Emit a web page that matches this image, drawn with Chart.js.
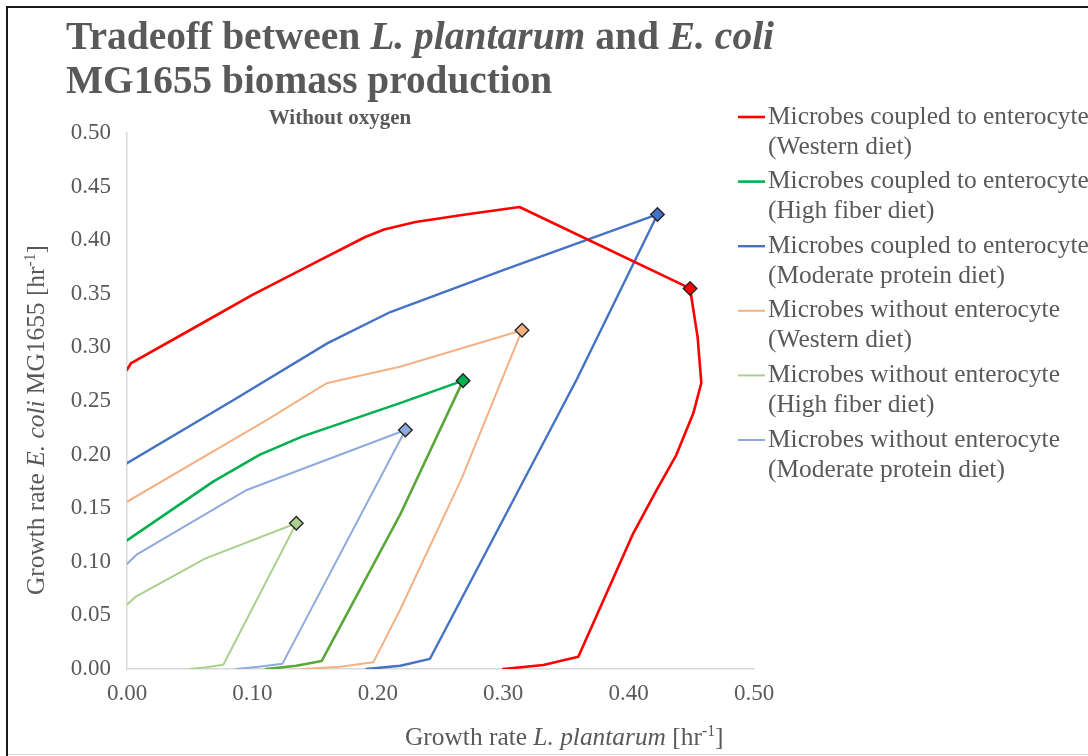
<!DOCTYPE html>
<html>
<head>
<meta charset="utf-8">
<title>Tradeoff between L. plantarum and E. coli MG1655 biomass production</title>
<script src="https://cdn.jsdelivr.net/npm/chart.js@4.4.1/dist/chart.umd.min.js"></script>
<style>
  html, body { margin: 0; padding: 0; background: #ffffff; }
  #wrap { width: 1088px; height: 756px; position: relative; }
</style>
</head>
<body>
<div id="wrap"><canvas id="chart" width="1088" height="756"></canvas></div>
<script>
// Growth rate of L. plantarum (x) vs E. coli MG1655 (y), hr^-1, anaerobic
// Each front runs from the E. coli axis up to the optimum (diamond) and back down to the L. plantarum axis.

// Microbes coupled to enterocyte, Western diet
const coupledWesternX = [0, 0.003, 0.05, 0.10, 0.15, 0.19, 0.205, 0.23, 0.27, 0.313, 0.449, 0.455, 0.458, 0.4516, 0.438, 0.4224, 0.4037, 0.3599, 0.332, 0.300];
const coupledWesternY = [0.279, 0.285, 0.316, 0.349, 0.379, 0.403, 0.410, 0.417, 0.424, 0.431, 0.355, 0.31, 0.267, 0.2385, 0.1996, 0.167, 0.1266, 0.0115, 0.0037, 0];

// Microbes coupled to enterocyte, High fiber diet
const coupledFiberX = [0, 0.069, 0.106, 0.14, 0.2177, 0.268, 0.2177, 0.1553, 0.135, 0.1108];
const coupledFiberY = [0.12, 0.175, 0.2, 0.217, 0.248, 0.269, 0.1437, 0.0075, 0.003, 0];

// Microbes coupled to enterocyte, Moderate protein diet
const coupledProteinX = [0, 0.085, 0.16, 0.21, 0.30, 0.423, 0.3586, 0.2416, 0.218, 0.191];
const coupledProteinY = [0.192, 0.251, 0.304, 0.333, 0.372, 0.424, 0.27, 0.0095, 0.003, 0];

// Microbes without enterocyte, Western diet
const aloneWesternX = [0, 0.111, 0.159, 0.2177, 0.315, 0.267, 0.2177, 0.1964, 0.17, 0.1393];
const aloneWesternY = [0.156, 0.232, 0.2665, 0.282, 0.316, 0.178, 0.055, 0.0062, 0.002, 0];

// Microbes without enterocyte, High fiber diet
const aloneFiberX = [0, 0.0064, 0.0622, 0.135, 0.0768, 0.062, 0.050];
const aloneFiberY = [0.06, 0.067, 0.103, 0.136, 0.004, 0.0015, 0];

// Microbes without enterocyte, Moderate protein diet
const aloneProteinX = [0, 0.008, 0.0955, 0.222, 0.124, 0.105, 0.087];
const aloneProteinY = [0.098, 0.107, 0.167, 0.223, 0.005, 0.002, 0];

// index of the optimum point (diamond marker) in each series
const optimumIndex = [10, 5, 5, 4, 3, 3];

const seriesNames = [
  'Microbes coupled to enterocyte', 'Microbes coupled to enterocyte', 'Microbes coupled to enterocyte',
  'Microbes without enterocyte', 'Microbes without enterocyte', 'Microbes without enterocyte'
];
const dietNames = [
  '(Western diet)', '(High fiber diet)', '(Moderate protein diet)',
  '(Western diet)', '(High fiber diet)', '(Moderate protein diet)'
];

const xTickLabels = ['0.00', '0.10', '0.20', '0.30', '0.40', '0.50'];
const yTickLabels = ['0.00', '0.05', '0.10', '0.15', '0.20', '0.25', '0.30', '0.35', '0.40', '0.45', '0.50'];

const seriesX = [coupledWesternX, coupledFiberX, coupledProteinX, aloneWesternX, aloneFiberX, aloneProteinX];
const seriesY = [coupledWesternY, coupledFiberY, coupledProteinY, aloneWesternY, aloneFiberY, aloneProteinY];
const lineColors = ['#FF0000', '#00B050', '#4472C4', '#F4B183', '#A9D18E', '#8FAADC'];
const returnColors = ['#FF0000', '#5AA73A', '#4472C4', '#F4B183', '#A9D18E', '#8FAADC'];
const lineWidths = [2.6, 2.6, 2.4, 2.0, 2.0, 2.0];

const SERIF = '"Liberation Serif", "Times New Roman", Times, serif';
const TEXT_GREY = '#595959';

function zip(xs, ys) { return xs.map((x, i) => ({ x: x, y: ys[i] })); }

const datasets = seriesX.map((xs, s) => ({
  label: seriesNames[s] + ' ' + dietNames[s],
  data: zip(xs, seriesY[s]),
  showLine: true,
  tension: 0,
  borderColor: lineColors[s],
  backgroundColor: lineColors[s],
  borderWidth: lineWidths[s],
  borderJoinStyle: 'round',
  borderCapStyle: 'round',
  segment: {
    borderColor: ctx => ctx.p0DataIndex >= optimumIndex[s] ? returnColors[s] : lineColors[s]
  },
  pointStyle: 'rectRot',
  pointRadius: ctx => ctx.dataIndex === optimumIndex[s] ? 6.8 : 0,
  pointBackgroundColor: lineColors[s],
  pointBorderColor: '#262626',
  pointBorderWidth: 1.4,
  pointHoverRadius: 0
}));

// text runs (plain / italic / superscript) laid out left to right
function runsWidth(ctx, runs, size, bold) {
  let w = 0;
  for (const r of runs) {
    const s = r.sup ? size * 0.62 : size;
    ctx.font = (r.italic ? 'italic ' : '') + (bold ? 'bold ' : '') + s + 'px ' + SERIF;
    w += ctx.measureText(r.t).width;
  }
  return w;
}
function drawRuns(ctx, runs, x, y, size, bold) {
  let cx = x;
  for (const r of runs) {
    const s = r.sup ? size * 0.62 : size;
    ctx.font = (r.italic ? 'italic ' : '') + (bold ? 'bold ' : '') + s + 'px ' + SERIF;
    ctx.fillText(r.t, cx, r.sup ? y - size * 0.36 : y);
    cx += ctx.measureText(r.t).width;
  }
}

const titleLine1 = [
  { t: 'Tradeoff between ' }, { t: 'L. plantarum', italic: true },
  { t: ' and ' }, { t: 'E. coli', italic: true }
];
const titleLine2 = [{ t: 'MG1655 biomass production' }];
const subtitleText = 'Without oxygen';
const xTitleRuns = [
  { t: 'Growth rate ' }, { t: 'L. plantarum', italic: true }, { t: ' [hr' }, { t: '-1', sup: true }, { t: ']' }
];
const yTitleRuns = [
  { t: 'Growth rate ' }, { t: 'E. coli', italic: true }, { t: ' MG1655 [hr' }, { t: '-1', sup: true }, { t: ']' }
];

const framePlugin = {
  id: 'frame',
  beforeDraw(chart) {
    const ctx = chart.ctx;
    ctx.save();
    ctx.fillStyle = '#ffffff';
    ctx.fillRect(0, 0, chart.width, chart.height);
    ctx.strokeStyle = '#1a1a1a';
    ctx.lineWidth = 2;
    ctx.beginPath();
    ctx.moveTo(7, chart.height);
    ctx.lineTo(7, 7);
    ctx.lineTo(chart.width, 7);
    ctx.stroke();
    ctx.strokeStyle = '#d9d9d9';
    ctx.lineWidth = 1;
    ctx.beginPath();
    ctx.moveTo(8, 754.5);
    ctx.lineTo(chart.width, 754.5);
    ctx.stroke();
    ctx.restore();
  }
};

const textPlugin = {
  id: 'texts',
  afterDraw(chart) {
    const ctx = chart.ctx;
    ctx.save();
    ctx.fillStyle = TEXT_GREY;
    ctx.textBaseline = 'alphabetic';
    ctx.textAlign = 'left';
    // main title
    drawRuns(ctx, titleLine1, 66, 49, 39.5, true);
    drawRuns(ctx, titleLine2, 66, 93, 39.3, true);
    // subtitle
    ctx.font = 'bold 21px ' + SERIF;
    ctx.textAlign = 'center';
    ctx.fillText(subtitleText, 340, 124);
    ctx.textAlign = 'left';
    // x axis title
    drawRuns(ctx, xTitleRuns, 405, 745, 25.4, false);
    // y axis title (rotated)
    const w = runsWidth(ctx, yTitleRuns, 25.4, false);
    ctx.translate(44, 420);
    ctx.rotate(-Math.PI / 2);
    drawRuns(ctx, yTitleRuns, -w / 2, 0, 25.4, false);
    ctx.restore();

    // legend, one entry per dataset on two lines
    ctx.save();
    ctx.textBaseline = 'middle';
    ctx.textAlign = 'left';
    ctx.font = '25.4px ' + SERIF;
    chart.data.datasets.forEach((ds, i) => {
      const y0 = 117 + i * 64.6;
      ctx.strokeStyle = ds.borderColor;
      ctx.lineWidth = ds.borderWidth;
      ctx.beginPath();
      ctx.moveTo(738, y0);
      ctx.lineTo(765, y0);
      ctx.stroke();
      ctx.fillStyle = TEXT_GREY;
      ctx.fillText(seriesNames[i], 768, y0);
      ctx.fillText(dietNames[i], 768, y0 + 30);
    });
    ctx.restore();
  }
};

new Chart(document.getElementById('chart'), {
  type: 'scatter',
  data: { datasets: datasets },
  plugins: [framePlugin, textPlugin],
  options: {
    responsive: false,
    animation: false,
    events: [],
    layout: { padding: { top: 133, right: 334, bottom: 0, left: 0 } },
    plugins: {
      legend: { display: false },
      title: { display: false },
      tooltip: { enabled: false }
    },
    scales: {
      x: {
        type: 'linear',
        min: 0, max: 0.5,
        afterFit(scale) { scale.height = 87; },
        grid: { display: false, drawTicks: false },
        border: { display: true, color: '#D9D9D9', width: 1.5 },
        ticks: {
          stepSize: 0.1,
          padding: 11,
          color: TEXT_GREY,
          font: { family: SERIF, size: 23 },
          maxRotation: 0,
          callback: (v, i) => xTickLabels[i]
        }
      },
      y: {
        type: 'linear',
        min: 0, max: 0.5,
        afterFit(scale) { scale.width = 127; },
        grid: { display: false, drawTicks: false },
        border: { display: true, color: '#D9D9D9', width: 1.5 },
        ticks: {
          stepSize: 0.05,
          padding: 16,
          color: TEXT_GREY,
          font: { family: SERIF, size: 23 },
          callback: (v, i) => yTickLabels[i]
        }
      }
    }
  }
});
</script>
</body>
</html>
